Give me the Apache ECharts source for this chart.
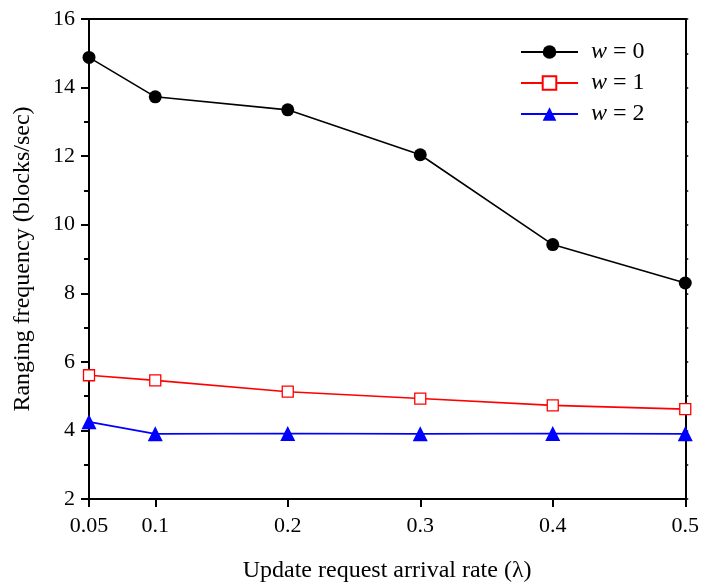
<!DOCTYPE html>
<html>
<head>
<meta charset="utf-8">
<script src="https://cdn.jsdelivr.net/npm/echarts@6/dist/echarts.min.js"></script>
<style>
  html, body { margin: 0; padding: 0; background: #fff; }
  #chart { width: 702px; height: 588px; }
</style>
</head>
<body>
<div id="chart"></div>
<script>
// arrival rate (lambda) on x
const rates = [0.05, 0.1, 0.2, 0.3, 0.4, 0.5];
const xTicks = [0.05, 0.1, 0.2, 0.3, 0.4, 0.5];

// ranging frequency (blocks/sec) per window w
const w0 = [14.88, 13.73, 13.35, 12.04, 9.42, 8.30];
const w1 = [5.61, 5.46, 5.13, 4.93, 4.73, 4.62];
const w2 = [4.25, 3.90, 3.91, 3.90, 3.91, 3.90];

const seriesNames = ['w0', 'w1', 'w2'];
const legendText = { w0: '{i|w} = 0', w1: '{i|w} = 1', w2: '{i|w} = 2' };

const font = 'Liberation Serif';
const pairs = arr => rates.map((r, i) => [r, arr[i]]);

const chart = echarts.init(document.getElementById('chart'));

const axisLine = { show: true, lineStyle: { color: '#000', width: 2 } };

chart.setOption({
  animation: false,
  backgroundColor: '#fff',
  grid: { left: 89, right: 14, top: 19, bottom: 88 },
  legend: {
    orient: 'vertical',
    left: 520,
    top: 40,
    padding: 0,
    itemWidth: 57,
    itemHeight: 17,
    itemGap: 7,
    data: seriesNames,
    formatter: name => legendText[name],
    textStyle: {
      fontFamily: font, fontSize: 24, lineHeight: 24, color: '#000', padding: [0, 0, 0, 8],
      rich: { i: { fontFamily: font, fontSize: 24, lineHeight: 24, fontStyle: 'italic', color: '#000' } }
    }
  },
  xAxis: [{
    type: 'value',
    min: 0.05, max: 0.5,
    name: 'Update request arrival rate (λ)',
    nameLocation: 'middle',
    nameGap: 60,
    nameTextStyle: { fontFamily: font, fontSize: 24, color: '#000' },
    axisLine: axisLine,
    axisTick: { show: true, customValues: xTicks, length: 8, lineStyle: { color: '#000', width: 2 } },
    axisLabel: {
      customValues: xTicks, margin: 16, fontFamily: font, fontSize: 22, color: '#000',
      formatter: v => String(v)
    },
    splitLine: { show: false }
  }, {
    type: 'value',
    position: 'top',
    min: 0.05, max: 0.5,
    axisLine: axisLine,
    axisTick: { show: false },
    axisLabel: { show: false },
    splitLine: { show: false }
  }],
  yAxis: [{
    type: 'value',
    min: 2, max: 16, interval: 2,
    name: 'Ranging frequency (blocks/sec)',
    nameLocation: 'middle',
    nameGap: 54,
    nameTextStyle: { fontFamily: font, fontSize: 24, color: '#000' },
    axisLine: axisLine,
    axisTick: { show: true, length: 8, lineStyle: { color: '#000', width: 2 } },
    minorTick: { show: true, splitNumber: 2, length: 5, lineStyle: { color: '#000', width: 2 } },
    axisLabel: { margin: 14, fontFamily: font, fontSize: 22, color: '#000' },
    splitLine: { show: false }
  }, {
    type: 'value',
    position: 'right',
    min: 2, max: 16, interval: 2,
    axisLine: axisLine,
    axisTick: { show: true, length: 3, lineStyle: { color: '#000', width: 1.5 } },
    minorTick: { show: true, splitNumber: 2, length: 3, lineStyle: { color: '#000', width: 1.5 } },
    axisLabel: { show: false },
    splitLine: { show: false }
  }],
  series: [{
    name: 'w0',
    type: 'line',
    data: pairs(w0),
    symbol: 'circle',
    symbolSize: 13,
    showAllSymbol: true,
    itemStyle: { color: '#000' },
    lineStyle: { color: '#000', width: 1.6 },
    z: 3
  }, {
    name: 'w1',
    type: 'line',
    data: pairs(w1),
    symbol: 'rect',
    symbolSize: 11,
    showAllSymbol: true,
    itemStyle: { color: '#fff', borderColor: '#ff0000', borderWidth: 1.3 },
    lineStyle: { color: '#ff0000', width: 1.6 },
    z: 2
  }, {
    name: 'w2',
    type: 'line',
    data: pairs(w2),
    symbol: 'triangle',
    symbolSize: 15,
    showAllSymbol: true,
    itemStyle: { color: '#0000ff' },
    lineStyle: { color: '#0000ff', width: 1.6 },
    z: 2
  }]
});
</script>
</body>
</html>
